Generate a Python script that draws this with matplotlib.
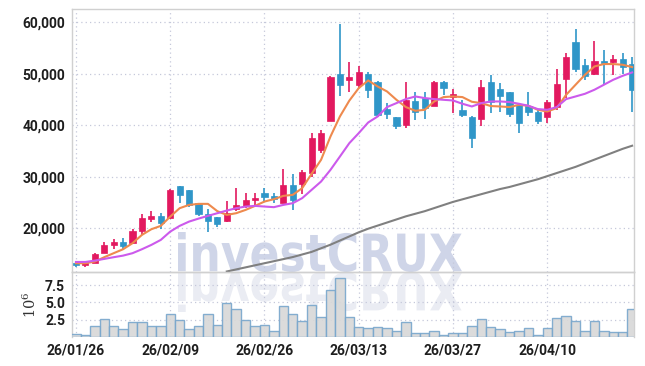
import numpy as np
import matplotlib
matplotlib.use("Agg")
import matplotlib.pyplot as plt
from matplotlib.textpath import TextPath
from matplotlib.patches import PathPatch
from matplotlib.font_manager import FontProperties
from matplotlib.transforms import Affine2D
from matplotlib.ticker import FuncFormatter

plt.rcParams['font.family'] = ['Roboto', 'DejaVu Sans']
plt.rcParams['mathtext.fontset'] = 'dejavuserif'

# OHLC (60 trading days)
opens = [13200, 12950, 13320, 15260, 16760, 17280, 17200, 19530, 21800, 22390,
         22060, 28210, 27440, 24970, 22780, 22140, 21350, 23690, 24390, 25500,
         26910, 26270, 24970, 28410, 28540, 30800, 35200, 40890, 49960, 48850,
         47690, 49960, 48270, 43030, 41480, 40060, 44720, 45170, 43750, 48410,
         45440, 42970, 41670, 41280, 48410, 47050, 46330, 43940, 43750, 42640,
         41670, 43500, 49000, 56120, 51710, 49900, 52490, 52230, 52870, 51900]
closes = [12950, 13300, 15000, 16700, 17280, 16560, 19530, 21940, 22390, 21090,
          27440, 26470, 24520, 22780, 21480, 20830, 22970, 24520, 25500, 25880,
          26140, 25690, 28410, 25500, 30870, 37480, 38450, 49320, 47880, 49380,
          50290, 46720, 42000, 42190, 39860, 44910, 42450, 43300, 48410, 47240,
          46080, 42000, 37590, 47380, 44580, 45690, 42190, 40500, 42450, 40890,
          44520, 48020, 53200, 50930, 49570, 52490, 52040, 52870, 51260, 46850]
highs = [13500, 13400, 15100, 17400, 17920, 18180, 19800, 22780, 23420, 22900,
         27570, 28210, 27440, 24970, 23690, 22140, 25300, 27770, 26800, 26800,
         27770, 26800, 31460, 30490, 31320, 38450, 39090, 49570, 59670, 52230,
         51510, 50210, 48600, 44270, 41670, 48270, 46520, 46330, 48500, 48600,
         46990, 44910, 41800, 48660, 49710, 48150, 46520, 44270, 46410, 42970,
         44780, 50870, 53980, 58640, 52810, 56230, 54480, 53650, 53980, 53200]
lows = [12550, 12450, 13200, 15200, 16040, 15790, 16950, 18700, 21280, 19800,
        21750, 24970, 24140, 22390, 19340, 20310, 21200, 23420, 23880, 24330,
        25170, 24970, 24900, 23550, 26660, 30020, 34680, 40800, 45690, 46330,
        47180, 45240, 41670, 41170, 39220, 39420, 41030, 41280, 43700, 45880,
        42330, 41550, 35650, 39920, 42330, 42560, 41670, 38450, 41800, 40250,
        40500, 42970, 45240, 50290, 48800, 49770, 47830, 49770, 49960, 42640]
volume = [0.38, 0.23, 1.6, 2.6, 1.6, 1.15, 2.16, 2.16, 1.6, 1.6,
          3.36, 2.45, 1.15, 1.6, 3.3, 1.78, 4.9, 4.04, 2.45, 1.6,
          1.73, 0.87, 4.47, 3.3, 2.3, 4.6, 2.88, 6.8, 8.5, 2.88,
          1.44, 1.3, 1.44, 1.3, 0.91, 2.16, 0.58, 0.58, 0.87, 0.29,
          0.58, 0.58, 1.6, 2.6, 1.44, 1.15, 0.77, 0.87, 1.3, 0.29,
          1.3, 2.74, 3.03, 2.3, 0.87, 2.3, 0.87, 0.72, 0.72, 4.04]
ma5 = [13200, 13200, 13520, 14370, 15150, 15920, 17090, 18700, 19800, 20450,
       22250, 23880, 24520, 24720, 24720, 23300, 22580, 22910, 23550, 24330,
       25170, 25630, 26270, 26470, 27770, 30550, 33260, 37790, 41670, 44750,
       47190, 48670, 47500, 46530, 44910, 43500, 42780, 42970, 44590, 45440,
       45560, 45440, 44530, 44270, 43700, 43620, 43500, 43940, 43750, 42970,
       42640, 43300, 45880, 47830, 49770, 51380, 51850, 51850, 51710, 51260]
ma20 = [13450, 13450, 13710, 14040, 14370, 14680, 15150, 15920, 16760, 17730,
        19340, 20450, 21280, 21860, 22390, 22910, 23420, 23880, 24200, 24330,
        24200, 24080, 24520, 24850, 25830, 27440, 29050, 31320, 33900, 36500,
        38450, 40510, 41670, 43500, 44270, 45050, 45560, 45250, 45050, 44910,
        44780, 44140, 43620, 44270, 44590, 44590, 44470, 44140, 43750, 43110,
        42970, 43500, 45050, 45560, 46080, 46860, 47830, 48800, 49570, 50220]
ma_long = [np.nan] * 16 + [
    11600, 12000, 12400, 12800, 13200, 13600, 14000, 14400, 14900, 15400,
    16100, 16800, 17600, 18400, 19200, 19900, 20500, 21100, 21700, 22300,
    22800, 23300, 23900, 24500, 25100, 25600, 26100, 26600, 27100, 27600,
    28000, 28500, 29000, 29500, 30100, 30700, 31300, 31900, 32600, 33300,
    34000, 34700, 35400, 36000]
tick_pos = [0, 10, 20, 30, 40, 50]
tick_labels = ['26/01/26', '26/02/09', '26/02/26', '26/03/13', '26/03/27', '26/04/10']

up_color = '#E2195F'
down_color = '#2F96C8'
grid_color = '#C5C8DA'
spine_color = '#D0D0D0'

fig = plt.figure(figsize=(6.45, 3.66), dpi=100, facecolor='white')
ax = fig.add_axes([72/645, 94/366, 562/645, 263/366], facecolor='none')
axv = fig.add_axes([72/645, 29/366, 562/645, 65/366], facecolor='none', sharex=ax)

# watermark + reflection (pixel coords)
tp = TextPath((0, 0), "investCRUX", size=50,
              prop=FontProperties(family='DejaVu Sans', weight='bold'))
ext = tp.get_extents()
sx = 284 / ext.width
sy = 40 / ext.height
px2in = Affine2D().scale(1 / 100.0) + fig.dpi_scale_trans
wm = Affine2D().translate(-ext.x0, -ext.y0).scale(sx, sy).translate(178, 94)
wm_ref = Affine2D().translate(-ext.x0, -ext.y0).scale(sx, -sy).translate(178, 94)
fig.add_artist(PathPatch(tp, transform=wm + px2in, facecolor='#CFD5E8',
                         edgecolor='none', zorder=-1))
fig.add_artist(PathPatch(tp, transform=wm_ref + px2in, facecolor='#EAECF3',
                         edgecolor='none', zorder=-1))

x = np.arange(len(closes))
o = np.array(opens)
c = np.array(closes)
colors = np.where(c >= o, up_color, down_color)

ax.vlines(x, lows, highs, colors=colors, linewidth=1.2, zorder=3)
ax.bar(x, np.maximum(np.abs(c - o), 150), bottom=np.minimum(o, c), width=0.66,
       color=colors, edgecolor=colors, linewidth=0.5, zorder=4)
ax.plot(x, ma5, color='#EE8A4E', lw=1.5, zorder=5)
ax.plot(x, ma20, color='#CC5AEC', lw=1.5, zorder=5)
ax.plot(x, ma_long, color='#808080', lw=1.5, zorder=5)

ax.set_xlim(-0.42, 59.2)
ax.set_ylim(11500, 62530)
ax.set_yticks([20000, 30000, 40000, 50000, 60000])
ax.yaxis.set_major_formatter(FuncFormatter(lambda v, p: f'{int(v):,}'))
ax.grid(True, color=grid_color, linestyle=(0, (1, 2.5)), linewidth=0.9)
ax.set_axisbelow(True)
ax.tick_params(axis='both', length=0, labelsize=10, colors='#1E1E1E', pad=5)
ax.tick_params(axis='x', labelbottom=False)
for lab in ax.get_yticklabels():
    lab.set_fontweight('bold')

axv.bar(x, volume, width=1.0, color='#D8D8D8', edgecolor='#78A6CC',
        linewidth=1.0, alpha=0.9, zorder=3)
axv.set_ylim(0, 9.42)
axv.set_yticks([2.5, 5.0, 7.5])
axv.set_xticks(tick_pos)
axv.set_xticklabels(tick_labels)
axv.grid(True, color=grid_color, linestyle=(0, (1, 2.5)), linewidth=0.9)
axv.set_axisbelow(True)
axv.tick_params(axis='both', length=0, labelsize=10, colors='#1E1E1E', pad=5)
for lab in axv.get_xticklabels() + axv.get_yticklabels():
    lab.set_fontweight('bold')
axv.set_ylabel(r'$10^6$', fontsize=10.5, color='#333333', labelpad=4)

for a in (ax, axv):
    for s in a.spines.values():
        s.set_color(spine_color)
        s.set_linewidth(1.0)
axv.spines['bottom'].set_visible(False)

fig.savefig('out.png', dpi=100, facecolor='white')
